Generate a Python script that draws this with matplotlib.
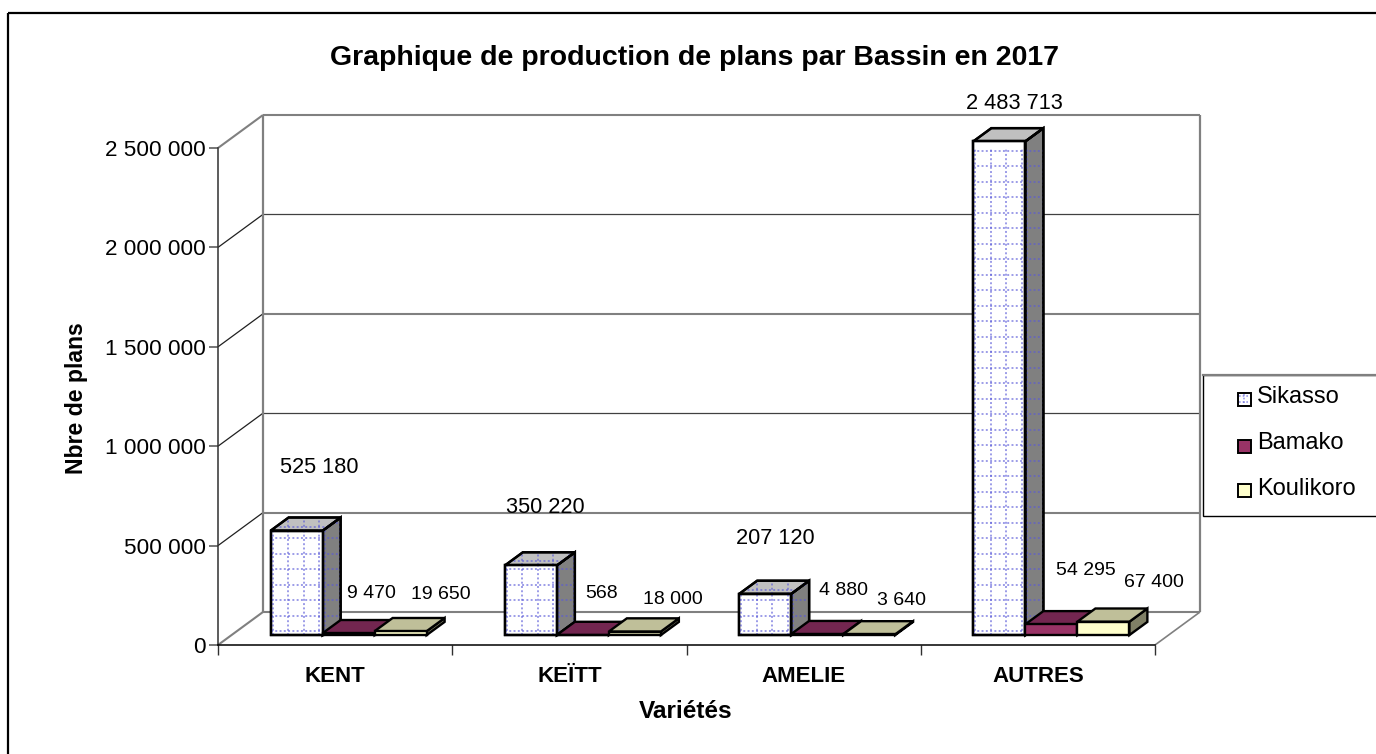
import numpy as np
from matplotlib import pyplot as plt
from matplotlib.patches import Polygon, Rectangle

plt.rcParams['font.family'] = ['Liberation Sans', 'DejaVu Sans']

## values
varietes = ['KENT', 'KEÏTT', 'AMELIE', 'AUTRES']
series_names = ['Sikasso', 'Bamako', 'Koulikoro']
sikasso = [525180, 350220, 207120, 2483713]
bamako = [9470, 568, 4880, 54295]
koulikoro = [19650, 18000, 3640, 67400]
y_ticks = [0, 500000, 1000000, 1500000, 2000000, 2500000]
y_tick_labels = ['0', '500 000', '1 000 000', '1 500 000', '2 000 000', '2 500 000']

## label offsets from the top of each bar, in pixels
label_offsets = [
    [(23, 63), (14, 58), (10, 55), (15, 38)],
    [(23, 40), (19, 41), (26, 44), (34, 54)],
    [(40, 37), (38, 32), (32, 34), (51, 39)],
]
label_sizes = [15.7, 14, 14]

W, H = 1376, 754
AX_L, AX_R, AX_TOP, AX_BOT = 218, 1155, 148, 645
WALL_DX, WALL_DY = 45, 33
GREY = '#808080'
AXIS = '#303030'

fig = plt.figure(figsize=(W / 100, H / 100), dpi=100)
ax = fig.add_axes([AX_L / W, 1 - AX_BOT / H, (AX_R - AX_L) / W, (AX_BOT - AX_TOP) / H])
ax.set_xlim(0, len(varietes))
ax.set_ylim(0, 2500000)
ax.patch.set_visible(False)
for name in ['top', 'right']:
    ax.spines[name].set_visible(False)
ax.spines['left'].set_color(AXIS)
ax.spines['left'].set_linewidth(1.1)
ax.spines['bottom'].set_color('k')
ax.spines['bottom'].set_linewidth(1.1)

ax.set_yticks(y_ticks, y_tick_labels)
ax.tick_params(axis='y', length=6.5, width=1.1, color='#505050', pad=2, labelsize=16.2)
ax.set_xticks(range(len(varietes) + 1), [''] * (len(varietes) + 1))
ax.set_xticks(np.arange(len(varietes)) + 0.5, varietes, minor=True)
ax.tick_params(axis='x', which='major', length=7, width=1.0, color=AXIS)
ax.tick_params(axis='x', which='minor', length=0, pad=15, labelsize=16)
for t in ax.get_xticklabels(minor=True):
    t.set_fontweight('bold')

px_x = len(varietes) / (AX_R - AX_L)
px_y = 2500000 / (AX_BOT - AX_TOP)


def proj(x, y, d):
    # d is the depth, 0 = front of the floor, 1 = back wall
    return x + d * WALL_DX * px_x, y + d * WALL_DY * px_y


def poly(pts, fc, z, ec='k', lw=1.7):
    p = Polygon(pts, closed=True, facecolor=fc, edgecolor=ec, linewidth=lw,
                joinstyle='miter', zorder=z, clip_on=False)
    ax.add_patch(p)
    return p


def line(xs, ys, color, lw, z=1):
    ax.plot(xs, ys, color=color, lw=lw, zorder=z, clip_on=False, solid_capstyle='butt')


## walls and gridlines, the reference alternates heavy grey and thin dark lines
xmax = len(varietes)
for i, v in enumerate(y_ticks):
    xb, yb = proj(0, v, 1)
    xe, ye = proj(xmax, v, 1)
    is_edge = v == 0 or v == y_ticks[-1]
    line([0, xb], [v, yb], GREY if is_edge else '#202020', 1.5 if is_edge else 0.9)
    if i in (2, 4):
        line([xb, xe], [yb, ye], '#404040', 0.9)
    else:
        line([xb, xe], [yb, ye], GREY, 1.5)
xb, yb = proj(0, 0, 1)
xt, yt = proj(0, 2500000, 1)
line([xb, xt], [yb, yt], GREY, 1.6)
xb, yb = proj(xmax, 0, 1)
xt, yt = proj(xmax, 2500000, 1)
line([xb, xt], [yb, yt], GREY, 1.6)
line([xmax, xb], [0, yb], GREY, 1.2)

## bars
series = [sikasso, bamako, koulikoro]
faces = ['white', '#993366', '#FFFFCC']
tops = ['#C0C0C0', '#732650', '#BFBF99']
sides = ['#808080', '#732650', '#808066']
BAR_W = 52 * px_x
D0, D1 = 0.3, 0.7
DOT = '#5A5AD8'


def dotted_fill(patch, pts, z):
    # the dotted lattice of the Sikasso fill, clipped on one bar face
    pts = np.array(pts)
    sx, sy = 15.5 * px_x, 15.5 * px_y
    for x in np.arange(pts[:, 0].min() + 2 * px_x, pts[:, 0].max(), sx):
        l, = ax.plot([x, x], [pts[:, 1].min(), pts[:, 1].max()], color=DOT, lw=1.4, alpha=0.6,
                     ls=(0, (1, 1.2)), zorder=z, clip_on=True)
        l.set_clip_path(patch)
    for y in np.arange(pts[:, 1].min() + 4 * px_y, pts[:, 1].max(), sy):
        l, = ax.plot([pts[:, 0].min(), pts[:, 0].max()], [y, y], color=DOT, lw=1.4, alpha=0.6,
                     ls=(0, (1, 1.2)), zorder=z, clip_on=True)
        l.set_clip_path(patch)


for s, vals in enumerate(series):
    for c, v in enumerate(vals):
        x0 = c + 0.5 + (s - 1.5) * BAR_W
        x1 = x0 + BAR_W
        z = 10 + c * 3 + s * 3
        front = [proj(x0, 0, D0), proj(x1, 0, D0), proj(x1, v, D0), proj(x0, v, D0)]
        side = [proj(x1, 0, D0), proj(x1, 0, D1), proj(x1, v, D1), proj(x1, v, D0)]
        top = [proj(x0, v, D0), proj(x1, v, D0), proj(x1, v, D1), proj(x0, v, D1)]
        ps = poly(side, sides[s], z)
        pt = poly(top, tops[s], z)
        pf = poly(front, faces[s], z + 1)
        if s == 0:
            dotted_fill(ps, side, z + 0.1)
            dotted_fill(pt, top, z + 0.1)
            dotted_fill(pf, front, z + 1.1)
            poly(front, 'none', z + 1.2)
            poly(side, 'none', z + 0.2)
            poly(top, 'none', z + 0.2)
        xl, yl = proj((x0 + x1) / 2, v, D0)
        ax.annotate(f'{v:,}'.replace(',', ' '), (xl, yl), xytext=label_offsets[s][c],
                    textcoords='offset pixels', ha='center', va='center', fontsize=label_sizes[s],
                    zorder=40, annotation_clip=False)

## texts outside the plot
fig.text(695 / W, 1 - 58 / H, 'Graphique de production de plans par Bassin en 2017',
         ha='center', va='center', fontsize=20.5, fontweight='bold')
fig.text(76 / W, 1 - 398 / H, 'Nbre de plans', rotation=90, ha='center', va='center',
         fontsize=16.6, fontweight='bold')
fig.text(686 / W, 1 - 711 / H, 'Variétés', ha='center', va='center', fontsize=17.6,
         fontweight='bold')

## legend and outer frame, in figure pixels
pix = fig.add_axes([0, 0, 1, 1], zorder=50)
pix.set_xlim(0, W)
pix.set_ylim(H, 0)
pix.axis('off')
pix.add_patch(Rectangle((1203, 375), 200, 141, fc='white', ec='k', lw=1.0))
pix.plot([1203, W], [375, 375], color=GREY, lw=1.6)
swatch_y = [399.5, 446, 490.5]
text_y = [397, 443, 489]
for i, name in enumerate(series_names):
    pix.add_patch(Rectangle((1237.5, swatch_y[i] - 6.5), 13, 13, fc=faces[i], ec='k', lw=1.4))
    pix.text(1257, text_y[i], name, ha='left', va='center', fontsize=17)
pix.plot([1239, 1249], [396, 396], color=DOT, lw=1.2, alpha=0.6, ls=(0, (1, 1.2)))
pix.plot([1239, 1249], [402, 402], color=DOT, lw=1.2, alpha=0.6, ls=(0, (1, 1.2)))
pix.plot([1244, 1244], [394, 405], color=DOT, lw=1.2, alpha=0.6, ls=(0, (1, 1.2)))
pix.add_patch(Rectangle((8, 13), W + 20, H + 20, fc='none', ec='k', lw=1.6))

fig.savefig('out.png', dpi=100)
